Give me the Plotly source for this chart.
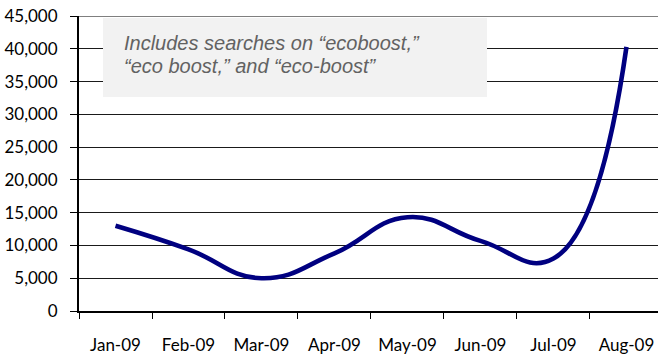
import plotly.graph_objects as go

months = ["Jan-09", "Feb-09", "Mar-09", "Apr-09", "May-09", "Jun-09", "Jul-09", "Aug-09"]
searches = [13000, 9400, 5000, 8800, 14300, 10700, 8000, 40300]
y_ticks = [0, 5000, 10000, 15000, 20000, 25000, 30000, 35000, 40000, 45000]
y_tick_text = ["0", "5,000", "10,000", "15,000", "20,000", "25,000", "30,000", "35,000", "40,000", "45,000"]
note_lines = ["Includes searches on \u201cecoboost,\u201d", "\u201ceco boost,\u201d and \u201ceco-boost\u201d"]

FONT = "Lato"
NOTE_FONT = "Liberation Sans"
PLOT_L, PLOT_W, PLOT_T, PLOT_H = 79, 579, 16, 295


def px_x(x):
    return (x - PLOT_L) / PLOT_W


def px_y(y):
    return (PLOT_T + PLOT_H - y) / PLOT_H


fig = go.Figure()
fig.add_trace(go.Scatter(
    x=months, y=searches, mode="lines",
    line=dict(color="#000080", width=4.6, shape="spline", smoothing=1.3),
    hoverinfo="skip", showlegend=False,
))

annotations = []
for i, line in enumerate(note_lines):
    annotations.append(dict(
        xref="paper", yref="paper", x=px_x(122), y=px_y(43.5 + 22.6 * i),
        xanchor="left", yanchor="middle", align="left", showarrow=False,
        text=line,
        font=dict(family=NOTE_FONT, size=20, color="#626262", style="italic"),
    ))

fig.update_layout(
    width=658, height=360,
    margin=dict(l=PLOT_L, r=0, t=PLOT_T, b=360 - PLOT_T - PLOT_H),
    paper_bgcolor="white", plot_bgcolor="white",
    font=dict(family=FONT, size=17, color="black"),
    xaxis=dict(
        type="category", range=[-0.5, 7.432],
        showgrid=False, showline=True, linecolor="black", linewidth=2,
        ticks="outside", tickson="boundaries", ticklen=6, tickwidth=1.3, tickcolor="black",
        ticklabelstandoff=18,
        tickfont=dict(family=FONT, size=17, color="black"),
    ),
    yaxis=dict(
        range=[0, 45000], tickvals=y_ticks, ticktext=y_tick_text,
        showgrid=True, gridcolor="#1a1a1a", gridwidth=1,
        showline=True, linecolor="black", linewidth=2,
        ticks="outside", ticklen=7, tickwidth=1.3, tickcolor="black",
        ticklabelstandoff=9, zeroline=False,
        tickfont=dict(family=FONT, size=17, color="black"),
    ),
    shapes=[
        dict(type="line", xref="paper", yref="y", x0=0, x1=1, y0=45000, y1=45000,
             line=dict(color="#7f7f7f", width=2), layer="above"),
        dict(type="rect", xref="paper", yref="paper",
             x0=px_x(103), x1=px_x(487), y0=px_y(97), y1=px_y(18),
             fillcolor="#F2F2F2", line=dict(width=0), layer="above"),
    ],
    annotations=annotations,
)

fig.write_html("out.html")
